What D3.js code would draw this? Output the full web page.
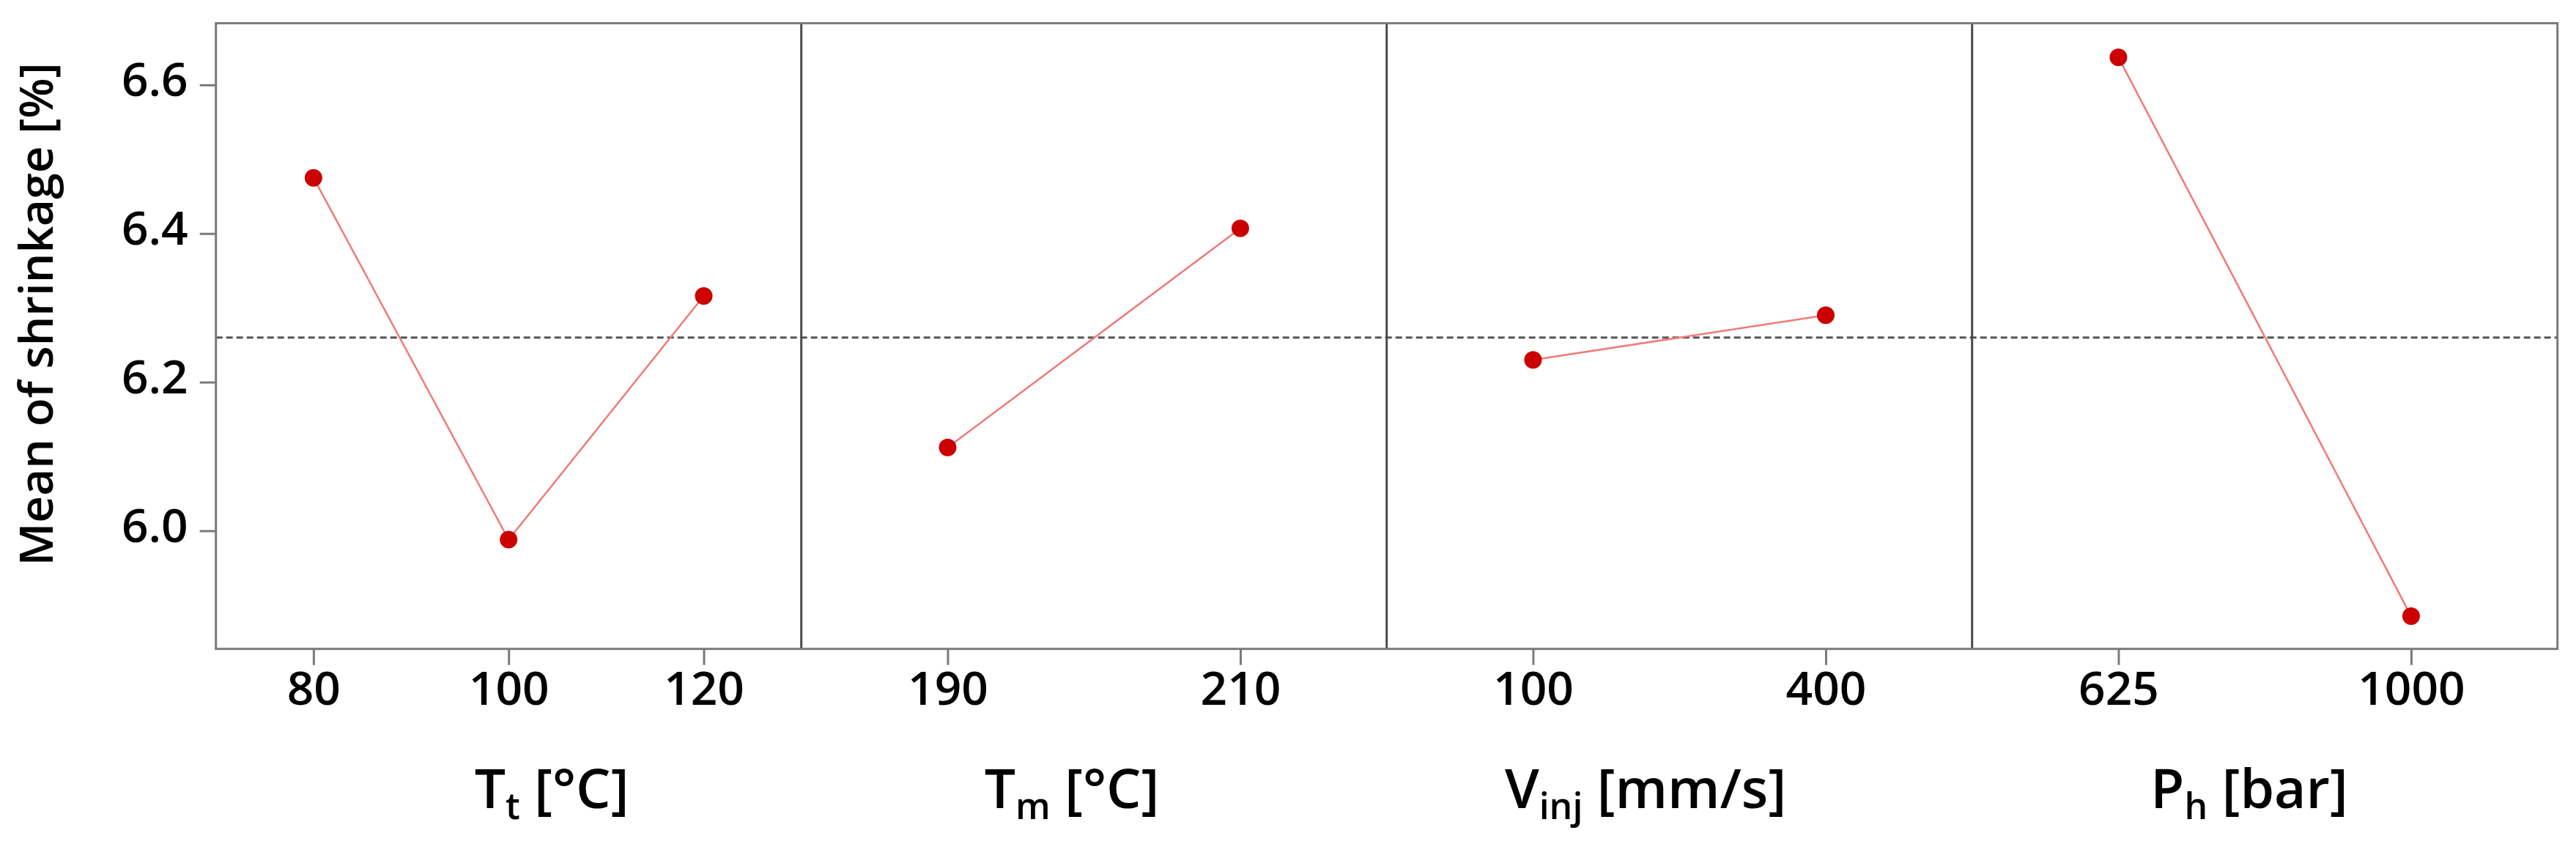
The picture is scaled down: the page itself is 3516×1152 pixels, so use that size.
<!DOCTYPE html>
<html>
<head>
<meta charset="utf-8">
<script src="https://cdn.jsdelivr.net/npm/d3@7"></script>
<style>
  body { margin: 0; background: #fff; }
  text { font-family: "Open Sans", "Noto Sans", sans-serif; fill: #000; font-weight: 600; }
</style>
</head>
<body>
<svg id="chart" width="3516" height="1152"></svg>
<script>
// Main effects plot data
var factorNames = ["T", "T", "V", "P"];
var factorSubs = ["t", "m", "inj", "h"];
var factorUnits = ["[\u00B0C]", "[\u00B0C]", "[mm/s]", "[bar]"];
var levels = [
  ["80", "100", "120"],
  ["190", "210"],
  ["100", "400"],
  ["625", "1000"]
];
var means = [
  [6.475, 5.988, 6.316],
  [6.112, 6.407],
  [6.230, 6.290],
  [6.637, 5.885]
];
var grandMean = 6.26;
var yTicks = [6.0, 6.2, 6.4, 6.6];
var yLabel = "Mean of shrinkage [%]";

// layout
var plotLeft = 294.7, plotRight = 3490.7, plotTop = 31.7, plotBottom = 885.7;
var titleX = [753, 1463, 2246, 3070];   // hand placed in the original
var titleY = 1103;

var svg = d3.select("svg#chart");

var y = d3.scaleLinear()
  .domain([5.841, 6.683])
  .range([plotBottom, plotTop]);

var panel = d3.scaleBand()
  .domain(d3.range(levels.length))
  .range([plotLeft, plotRight])
  .padding(0);

var lineColor = "#f07a7a",
  dotColor = "#cc0000",
  frameColor = "#7a7a7a",
  divColor = "#4a4a4a";

// grand mean reference
svg.append("line")
  .attr("x1", plotLeft).attr("x2", plotRight)
  .attr("y1", y(grandMean)).attr("y2", y(grandMean))
  .attr("stroke", "#555")
  .attr("stroke-width", 3)
  .attr("stroke-dasharray", "9,5");

// panel dividers
svg.append("g")
  .selectAll("line")
  .data(d3.range(1, levels.length))
  .join("line")
  .attr("x1", d => panel(d)).attr("x2", d => panel(d))
  .attr("y1", plotTop).attr("y2", plotBottom)
  .attr("stroke", divColor)
  .attr("stroke-width", 3);

// y axis
var yAxis = svg.append("g")
  .attr("transform", "translate(" + plotLeft + ",0)")
  .call(d3.axisLeft(y).tickValues(yTicks).tickFormat(d3.format(".1f")).tickSize(22).tickPadding(16));
yAxis.select(".domain").remove();
yAxis.selectAll(".tick line").attr("stroke", frameColor).attr("stroke-width", 3);
yAxis.selectAll(".tick text")
  .attr("dy", "15px")
  .style("font-size", "64px")
  .style("font-family", "'Open Sans', sans-serif");

// one panel per factor
levels.forEach(function (lv, i) {
  var x = d3.scalePoint()
    .domain(lv)
    .range([0, panel.bandwidth()])
    .padding(0.5);

  var g = svg.append("g")
    .attr("transform", "translate(" + panel(i) + ",0)");

  var xAxis = g.append("g")
    .attr("transform", "translate(0," + plotBottom + ")")
    .call(d3.axisBottom(x).tickSize(22));
  xAxis.select(".domain").remove();
  xAxis.selectAll(".tick line").attr("stroke", frameColor).attr("stroke-width", 3);
  xAxis.selectAll(".tick text")
    .attr("y", 76)
    .attr("dy", 0)
    .style("font-size", "64px")
    .style("font-family", "'Open Sans', sans-serif");

  var pts = lv.map((d, j) => [x(d), y(means[i][j])]);

  g.append("path")
    .attr("d", d3.line()(pts))
    .attr("fill", "none")
    .attr("stroke", lineColor)
    .attr("stroke-width", 2.5);

  g.selectAll("circle")
    .data(pts)
    .join("circle")
    .attr("cx", d => d[0])
    .attr("cy", d => d[1])
    .attr("r", 12)
    .attr("fill", dotColor);

  // factor title with subscript
  var t = svg.append("text")
    .attr("x", titleX[i])
    .attr("y", titleY)
    .attr("text-anchor", "middle")
    .style("font-size", "75px");
  t.append("tspan").text(factorNames[i]);
  t.append("tspan").attr("dy", 15).style("font-size", "50px").text(factorSubs[i]);
  t.append("tspan").attr("dy", -15).text(" " + factorUnits[i]);
});

// frame
svg.append("rect")
  .attr("x", plotLeft).attr("y", plotTop)
  .attr("width", plotRight - plotLeft).attr("height", plotBottom - plotTop)
  .attr("fill", "none")
  .attr("stroke", frameColor)
  .attr("stroke-width", 3);

// y title
svg.append("text")
  .attr("transform", "translate(72,429) rotate(-90)")
  .attr("text-anchor", "middle")
  .style("font-size", "64px")
  .text(yLabel);
</script>
</body>
</html>
